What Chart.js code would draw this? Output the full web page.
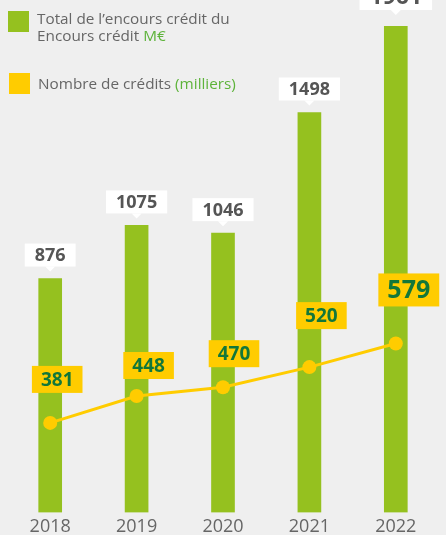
<!DOCTYPE html>
<html>
<head>
<meta charset="utf-8">
<script src="https://cdn.jsdelivr.net/npm/chart.js@4"></script>
<style>
    html, body { margin: 0; padding: 0; background: #efefef; overflow: hidden; }
    #wrap { position: relative; width: 446px; height: 535px; overflow: hidden; }
    #chart { position: absolute; left: 0; top: 0; }
    .legend { position: absolute; left: 0; top: 0; font-family: "Open Sans", sans-serif; font-size: 15.3px; color: #666; line-height: 17px; }
    .legend .item { position: absolute; white-space: nowrap; }
    .legend .sw { position: absolute; width: 21px; height: 21px; }
    .legend .unit { color: #5db33a; }
</style>
</head>
<body>
<div id="wrap">
    <canvas id="chart" width="446" height="542"></canvas>
    <div class="legend">
        <div class="sw" style="left:8px; top:11px; background:#95c11f;"></div>
        <div class="item" style="left:37px; top:10px;">Total de l’encours crédit du<br>Encours crédit <span class="unit">M€</span></div>
        <div class="sw" style="left:9px; top:73px; background:#ffcc00;"></div>
        <div class="item" style="left:38px; top:75px;">Nombre de crédits <span class="unit">(milliers)</span></div>
    </div>
</div>
<script>
// Chart data
const years = ['2018', '2019', '2020', '2021', '2022'];
const encoursCredit = [876, 1075, 1046, 1498, 1961];   // M€
const nombreCredits = [381, 448, 470, 520, 579];       // milliers

const GREEN = '#95c11f';
const YELLOW = '#ffcc00';

// Draw the value boxes above bars and line points
const valueLabels = {
    id: 'valueLabels',
    afterDatasetsDraw(chart, args, opts) {
        const ctx = chart.ctx;
        const area = chart.chartArea;

        // White callouts over the bars
        const barMeta = chart.getDatasetMeta(1);
        barMeta.data.forEach((bar, i) => {
            const size = opts.barFont[i];
            const text = String(encoursCredit[i]);
            ctx.save();
            ctx.font = 'bold ' + size + 'px "Open Sans", sans-serif';
            const w = ctx.measureText(text).width + 20;
            const h = size + 5;
            const top = Math.max(bar.y, area.top);
            const gap = opts.barGap[i];
            const bottom = top - gap;
            ctx.fillStyle = '#ffffff';
            ctx.fillRect(bar.x - w / 2, bottom - h, w, h);
            ctx.beginPath();
            ctx.moveTo(bar.x - 5, bottom);
            ctx.lineTo(bar.x + 5, bottom);
            ctx.lineTo(bar.x, bottom + 5);
            ctx.closePath();
            ctx.fill();
            ctx.fillStyle = '#555555';
            ctx.textAlign = 'center';
            ctx.textBaseline = 'middle';
            ctx.fillText(text, bar.x, bottom - h / 2 + 1);
            ctx.restore();
        });

        // Yellow boxes over the line points
        const lineMeta = chart.getDatasetMeta(0);
        lineMeta.data.forEach((pt, i) => {
            const size = opts.lineFont[i];
            const text = String(nombreCredits[i]);
            ctx.save();
            ctx.font = 'bold ' + size + 'px "Open Sans", sans-serif';
            const w = ctx.measureText(text).width + 18;
            const h = size + 8;
            const cx = pt.x + opts.lineShift[i];
            const bottom = pt.y - opts.lineLift[i];
            ctx.fillStyle = YELLOW;
            ctx.fillRect(cx - w / 2, bottom - h, w, h);
            ctx.fillStyle = '#12773a';
            ctx.textAlign = 'center';
            ctx.textBaseline = 'middle';
            ctx.fillText(text, cx, bottom - h / 2 + 1);
            ctx.restore();
        });
    }
};

const ctx = document.getElementById('chart').getContext('2d');
const chart = new Chart(ctx, {
    type: 'bar',
    data: {
        labels: years,
        datasets: [
            {
                type: 'line',
                label: 'Nombre de crédits (milliers)',
                data: nombreCredits,
                yAxisID: 'y2',
                borderColor: YELLOW,
                backgroundColor: YELLOW,
                borderWidth: 3,
                pointRadius: 7,
                pointBackgroundColor: YELLOW,
                pointBorderWidth: 0,
                tension: 0,
                order: 0
            },
            {
                label: 'Total de l’encours crédit du Encours crédit M€',
                data: encoursCredit,
                yAxisID: 'y',
                backgroundColor: GREEN,
                barThickness: 23,
                clip: 0,
                order: 1
            }
        ]
    },
    options: {
        responsive: false,
        devicePixelRatio: 1,
        animation: false,
        layout: {
            padding: { left: 6, right: 0, top: 26, bottom: 0 }
        },
        scales: {
            x: {
                grid: { display: false, drawTicks: false },
                border: { display: false },
                ticks: {
                    color: '#666666',
                    padding: 4,
                    font: { family: 'Open Sans', size: 18 }
                }
            },
            y: {
                display: false,
                min: 0,
                max: 1822
            },
            y2: {
                display: false,
                min: 158,
                max: 1370
            }
        },
        plugins: {
            legend: { display: false },
            tooltip: { enabled: false },
            valueLabels: {
                barFont: [18, 18, 18, 18, 23],
                barGap: [12, 12, 12, 12, 16],
                lineFont: [19, 19, 19, 19, 25],
                lineShift: [7, 12, 11, 12, 13],
                lineLift: [30, 17, 20, 38, 37]
            }
        }
    },
    plugins: [valueLabels]
});
</script>
</body>
</html>
